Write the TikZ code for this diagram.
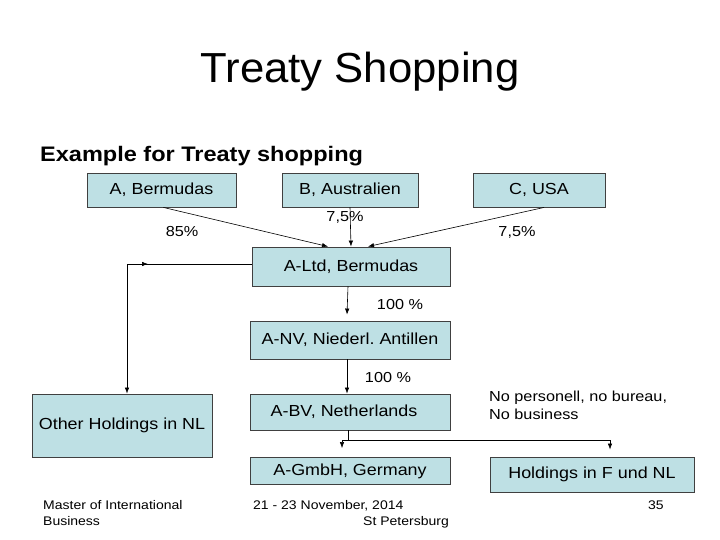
\documentclass[tikz,border=0pt]{standalone}
\usepackage{fontspec}
\setmainfont{Liberation Sans}[FakeStretch=1.12]
\newfontfamily\titlefont{Liberation Sans}[FakeStretch=1.04]
\usetikzlibrary{arrows.meta}
\definecolor{boxc}{RGB}{190,224,228}
\definecolor{edgec}{RGB}{64,64,64}
\tikzset{
  box/.style={draw=edgec, fill=boxc, line width=0.9pt, inner sep=0pt, font=\fontsize{16}{19}\selectfont},
  conn/.style={draw=black, line width=0.6pt, -{Latex[length=6pt,width=4.5pt]}},
  plain/.style={draw=black, line width=0.6pt},
  lbl/.style={font=\fontsize{14.5}{17}\selectfont, inner sep=0pt},
  foot/.style={font=\fontsize{12.5}{16}\selectfont, inner sep=0pt, anchor=base west, align=left},
}
\begin{document}
\begin{tikzpicture}[x=1pt,y=-1pt]
\useasboundingbox (0,0) rectangle (720,540);
\node[font=\titlefont\fontsize{42}{50}\selectfont, anchor=base, inner sep=0pt] (title) at (360,83) {Treaty Shopping};
\node[font=\bfseries\fontsize{21}{24}\selectfont, anchor=base west, inner sep=0pt] (sub) at (40,162) {Example for Treaty shopping};

\node[box, minimum width=149pt, minimum height=34pt] (a) at (161.5,190) {A, Bermudas};
\node[box, minimum width=136pt, minimum height=34pt] (b) at (350,190) {B, Australien};
\node[box, minimum width=132pt, minimum height=34pt] (c) at (539,190) {C, USA};
\node[box, minimum width=198pt, minimum height=39pt] (altd) at (351,266.5) {A-Ltd, Bermudas};
\node[box, minimum width=200pt, minimum height=38pt] (anv) at (350,340) {A-NV, Niederl.\ Antillen};
\node[box, minimum width=200pt, minimum height=36pt] (abv) at (350,412) {\hspace*{-12pt}A-BV, Netherlands};
\node[box, minimum width=200pt, minimum height=27pt] (agmbh) at (350,471) {A-GmbH, Germany};
\node[box, minimum width=180pt, minimum height=63pt] (other) at (122,425.5) {Other Holdings in NL};
\node[box, minimum width=204pt, minimum height=35pt] (hold) at (592,474.5) {Holdings in F und NL};

\node[lbl] (l85) at (182,232) {85\%};
\node[lbl] (l75a) at (345,217) {7,5\%};
\node[lbl] (l75b) at (517,232) {7,5\%};
\node[lbl] (l100a) at (400,305) {100 \%};
\node[lbl] (l100b) at (388,378) {100 \%};
\node[lbl, anchor=base west, align=left, font=\fontsize{14.5}{18}\selectfont] (note) at (489,419) {No personell, no bureau,\\No business};

\draw[conn] ([xshift=2pt]a.south) -- ([xshift=-23pt]altd.north);
\draw[conn] (b.south) -- (altd.north);
\draw[conn] ([xshift=5pt]c.south) -- ([xshift=17pt]altd.north);
\draw[conn] ([xshift=-3pt]altd.south) -- ([xshift=-3pt,yshift=6pt]anv.north);
\draw[conn] ([xshift=-3pt]anv.south) -- ([xshift=-3pt]abv.north);

\coordinate (corner) at (127,264);
\draw[conn] (altd.west |- corner) -- (corner) -- (other.north -| corner);
\draw[conn] (corner) -- (148,264);

\coordinate (fork) at (348,440);
\coordinate (forkL) at (342,440);
\coordinate (forkR) at (610,440);
\draw[plain] (abv.south -| fork) -- (fork);
\draw[plain] (forkL) -- (forkR);
\draw[conn] (forkL) -- ([yshift=9pt]agmbh.north -| forkL);
\draw[conn] (forkR) -- ([yshift=7pt]hold.north -| forkR);

\node[foot] (f1) at (43,525) {Master of International\\Business};
\node[foot] (f2) at (253,509) {21 - 23 November, 2014};
\node[foot] (f3) at (363,525) {St Petersburg};
\node[foot] (f4) at (648,509) {35};
\end{tikzpicture}
\end{document}
